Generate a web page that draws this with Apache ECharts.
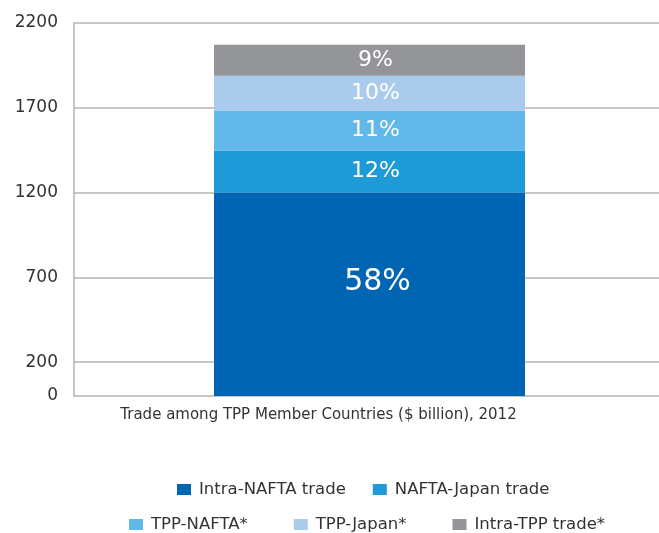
<!DOCTYPE html>
<html>
<head>
<meta charset="utf-8">
<script src="https://cdn.jsdelivr.net/npm/echarts@6/dist/echarts.min.js"></script>
<style>
  html, body { margin: 0; padding: 0; background: #fff; }
  #chart { width: 659px; height: 533px; }
</style>
</head>
<body>
<div id="chart"></div>
<script>
// data
const CATEGORIES = ['Trade among TPP Member Countries ($ billion), 2012'];
const SERIES_NAMES = ['Intra-NAFTA trade', 'NAFTA-Japan trade', 'TPP-NAFTA*', 'TPP-Japan*', 'Intra-TPP trade*'];
const VALUES = [1200, 248, 236, 205, 183];
const PERCENTS = ['58%', '12%', '11%', '10%', '9%'];
const TICK_LABELS = [0, 200, 700, 1200, 1700, 2200];

const COLORS = ['#0066b3', '#1e9ad6', '#62b8e8', '#aacbec', '#939598'];
const FONT = 'DejaVu Sans';
const GRID_COLOR = '#b4b4b4';

let myChart = echarts.init(document.getElementById('chart'));

let series = SERIES_NAMES.map((name, i) => {
    return {
        name: name,
        type: 'bar',
        stack: 'total',
        barWidth: 311,
        itemStyle: {color: COLORS[i]},
        label: {
            show: true,
            position: 'inside',
            color: '#fff',
            fontFamily: FONT,
            fontSize: i === 0 ? 30 : 22,
            offset: i === 0 ? [8, -12] : [6, 0],
            formatter: () => PERCENTS[i]
        },
        data: [VALUES[i]]
    };
});

let legendText = {fontFamily: FONT, fontSize: 16.5, color: '#333', padding: [0, 0, 0, 3]};

myChart.setOption({
    animation: false,
    grid: {left: 74, right: -6, top: 23, bottom: 137, containLabel: false, outerBoundsMode: 'none'},
    legend: [{
        data: SERIES_NAMES.slice(0, 2),
        left: 177,
        top: 481,
        padding: 0,
        itemWidth: 14,
        itemHeight: 11,
        itemGap: 27,
        icon: 'rect',
        textStyle: legendText
    }, {
        data: SERIES_NAMES.slice(2),
        left: 129,
        top: 516,
        padding: 0,
        itemWidth: 14,
        itemHeight: 11,
        itemGap: 46,
        icon: 'rect',
        textStyle: legendText
    }],
    xAxis: {
        type: 'category',
        data: CATEGORIES,
        axisLine: {show: true, lineStyle: {color: GRID_COLOR, width: 1.5}},
        axisTick: {show: false},
        axisLabel: {
            fontFamily: FONT,
            fontSize: 15,
            color: '#333',
            margin: 12,
            padding: [0, 102, 0, 0]
        }
    },
    yAxis: {
        type: 'value',
        min: 0,
        max: 2200,
        interval: 100,
        axisLine: {show: true, lineStyle: {color: GRID_COLOR, width: 1.5}},
        axisTick: {show: false},
        axisLabel: {
            fontFamily: FONT,
            fontSize: 17,
            color: '#333',
            margin: 16,
            formatter: (v) => TICK_LABELS.indexOf(v) >= 0 ? String(v) : ''
        },
        splitLine: {
            show: true,
            showMinLine: false,
            lineStyle: {
                color: ['transparent', GRID_COLOR, 'transparent', 'transparent', 'transparent'],
                width: 1.5
            }
        }
    },
    series: series
});
</script>
</body>
</html>
